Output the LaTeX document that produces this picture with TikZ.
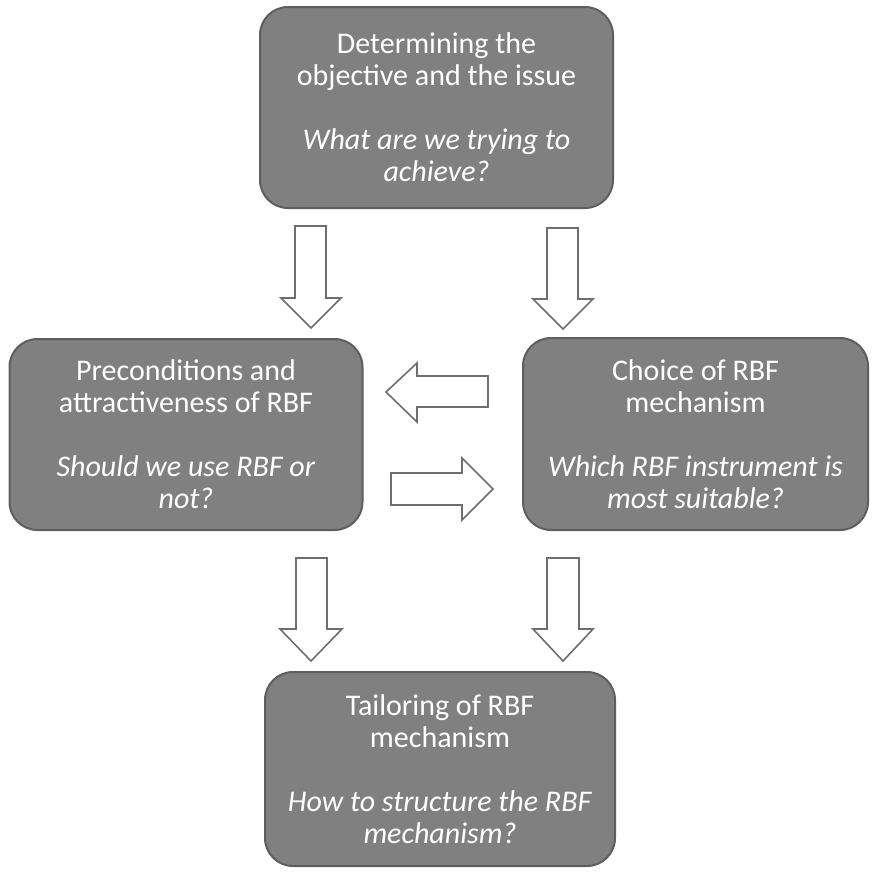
\documentclass[tikz,border=0pt]{standalone}
\usepackage{fontspec}
\setmainfont{Carlito}
\begin{document}
\begin{tikzpicture}[x=1pt,y=-1pt,
  stepbox/.style={draw=boxline, line width=2pt, fill=boxfill, rounded corners=28pt,
    text=white, align=center, inner sep=0pt,
    font=\fontsize{30}{32}\selectfont},
  blockarrow/.style={draw=arrowline, line width=1.6pt, fill=white, line join=miter}]
\definecolor{boxfill}{HTML}{808080}
\definecolor{boxline}{HTML}{5E5E5E}
\definecolor{arrowline}{HTML}{6E6E6E}
\useasboundingbox (0,0) rectangle (873,873);
\fill[white] (0,0) rectangle (873,873);
% boxes
\node[stepbox, minimum width=353pt, minimum height=201pt] (obj) at (436.5,107.5)
  {Determining the\\objective and the issue\\[32pt]\textit{What are we trying to}\\\textit{achieve?}};
\node[stepbox, minimum width=353pt, minimum height=191pt] (pre) at (186,434.5)
  {Preconditions and\\attractiveness of RBF\\[32pt]\textit{Should we use RBF or}\\\textit{not?}};
\node[stepbox, minimum width=345pt, minimum height=192pt] (cho) at (695.5,434)
  {Choice of RBF\\mechanism\\[32pt]\textit{Which RBF instrument is}\\\textit{most suitable?}};
\node[stepbox, minimum width=350pt, minimum height=194pt] (tai) at (440,769)
  {Tailoring of RBF\\mechanism\\[32pt]\textit{How to structure the RBF}\\\textit{mechanism?}};
% block arrows (down)
\draw[blockarrow] (295,226) -- (326,226) -- (326,298) -- (341,298) -- (311,328)
  -- (281,298) -- (295,298) -- cycle;
\draw[blockarrow] (547,228) -- (578,228) -- (578,299) -- (593,299) -- (563,329)
  -- (533,299) -- (547,299) -- cycle;
\draw[blockarrow] (296,558) -- (327,558) -- (327,629) -- (342,629) -- (311,661)
  -- (280,629) -- (296,629) -- cycle;
\draw[blockarrow] (547,558) -- (579,558) -- (579,629) -- (593,629) -- (563,661)
  -- (533,629) -- (547,629) -- cycle;
% horizontal
\draw[blockarrow] (488,376) -- (488,407) -- (417,407) -- (417,422) -- (386,392)
  -- (417,363) -- (417,376) -- cycle;
\draw[blockarrow] (391,473) -- (462,473) -- (462,458) -- (493,489) -- (462,520)
  -- (462,505) -- (391,505) -- cycle;
\end{tikzpicture}
\end{document}
